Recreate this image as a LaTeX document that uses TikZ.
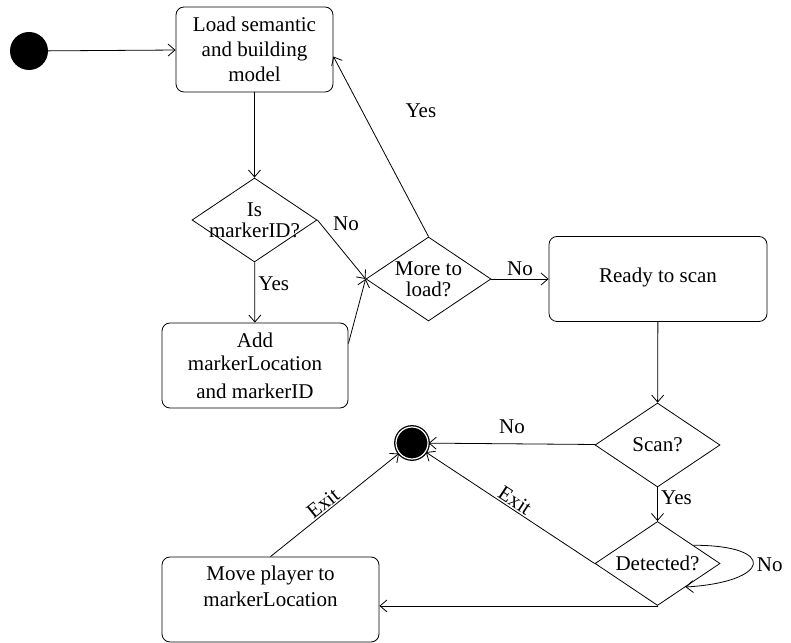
\documentclass[tikz,border=0pt]{standalone}
\usepackage{fontspec}
\setmainfont{Liberation Serif}
\usetikzlibrary{arrows.meta, positioning, shapes.geometric, calc}

\begin{document}
\begin{tikzpicture}[x=1pt, y=1pt,
    every node/.style={font=\fontsize{21}{25}\selectfont},
    state/.style={rectangle, draw, rounded corners=8pt, line width=0.8pt,
                  minimum width=#1, minimum height=85pt, align=center, inner sep=2pt},
    decision/.style={diamond, draw, line width=0.8pt, minimum width=125pt,
                     minimum height=84pt, inner sep=0pt,
                     label={[align=center, font=\fontsize{21}{21}\selectfont]center:#1}},
    initial/.style={circle, fill=black, minimum size=38pt, inner sep=0pt},
    final/.style={circle, fill=black, draw=black, line width=1.3pt, double=white,
                  double distance=1.2pt, minimum size=32pt, inner sep=0pt},
    flow/.style={-{Straight Barb[length=7pt, width=12pt]}, line width=0.8pt},
]
    \useasboundingbox (0,0) rectangle (791,642);

    % -- loading the models --
    \node[initial] (start) at (29,591) {};
    \node[state=157pt] (load) at (254.5,592.5) {Load semantic\\and building\\model};
    \node[decision={Is\\markerID?}] (ismarker) at (254.5,422) {};
    \node[state=186pt, font=\fontsize{21}{23}\selectfont] (addmarker) at (255,276.5)
        {Add\\markerLocation\\[5pt]and markerID};
    \node[decision={More to\\load?}] (moreload) at (428.5,363) {};

    % -- scanning --
    \node[state=218pt] (ready) at (658,363) {\raisebox{7pt}{Ready to scan}};
    \node[decision={Scan?}] (scan) at (657.5,197) {};
    \node[decision={Detected?}] (detected) at (657.5,78.5) {};
    \node[final] (finish) at (412,199) {};
    \node[state=217pt, font=\fontsize{21}{26}\selectfont] (move) at (270.5,42.5)
        {Move player to\\markerLocation\\\mbox{}};

    \draw[flow] (start) -- (load);
    \draw[flow] (load) -- (ismarker);
    \draw[flow] (ismarker) -- node[pos=0.35, right] {Yes} (addmarker);
    \draw[flow] (ismarker.east) -- node[pos=0.25, above right] {No} (moreload.west);
    \draw[flow] ([yshift=22pt]addmarker.east) -- (moreload.west);
    \draw[flow] (moreload.north) -- node[pos=0.7, right=40pt] {Yes} ([yshift=-7pt]load.east);
    \draw[flow] (moreload) -- node[above] {No} (ready);

    \draw[flow] (ready) -- (scan);
    \draw[flow] (scan) -- node[above=6pt] {No} (finish);
    \draw[flow] (scan) -- node[pos=0.3, right] {Yes} (detected);
    \draw[flow] (detected.west) -- node[pos=0.5, above, sloped, inner sep=1pt] {Exit} (finish);
    \draw[flow] (detected.27) .. controls +(85,0) and +(85,5) .. node[right] {No} (detected.-40);
    \draw[flow] (detected.south) -- (detected.south -| move.east);
    \draw[flow] (move.north) -- node[pos=0.45, above, sloped, inner sep=1pt] {Exit} (finish);

\end{tikzpicture}
\end{document}
